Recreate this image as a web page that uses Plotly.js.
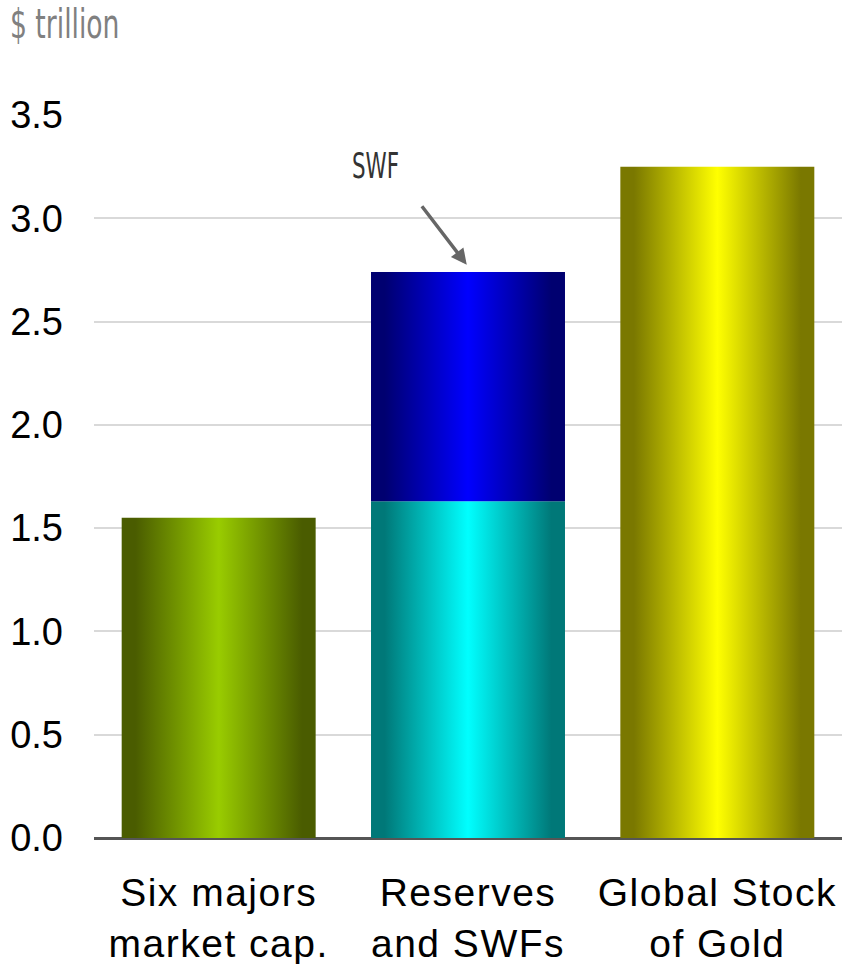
<!DOCTYPE html>
<html>
<head>
<meta charset="utf-8">
<script src="https://cdn.plot.ly/plotly-3.0.1.min.js"></script>
<style>
html,body{margin:0;padding:0;background:#fff;}
#chart{width:842px;height:964px;}
.gtitle{font-stretch:condensed; transform-box:fill-box; transform-origin:left center; transform:scaleX(0.74);}
.annotation-text{font-stretch:condensed; transform-box:fill-box; transform-origin:center; transform:scaleX(0.68);}
.xtick text{letter-spacing:1.5px;}
</style>
</head>
<body>
<div id="chart"></div>
<script>
// ---- data ----
const categories = ['Six majors<br>market cap.', 'Reserves<br>and SWFs', 'Global Stock<br>of Gold'];
const sixMajors = [1.55, 0, 0];
const reserves  = [0, 1.63, 0];
const swf       = [0, 1.11, 0];
const gold      = [0, 0, 3.25];
const yTicks    = [0, 0.5, 1.0, 1.5, 2.0, 2.5, 3.0, 3.5];
const yTickText = ['0.0','0.5','1.0','1.5','2.0','2.5','3.0','3.5'];
const unitLabel = '$ trillion';
const swfLabel  = 'SWF';

// ---- styling ----
const seriesList = [
  {name:'Six majors', vals: sixMajors, dark:'#4a5c00', bright:'#99cc00'},
  {name:'Reserves',   vals: reserves,  dark:'#007878', bright:'#00ffff'},
  {name:'SWF',        vals: swf,       dark:'#000070', bright:'#0000ff'},
  {name:'Gold',       vals: gold,      dark:'#7a7800', bright:'#ffff00'}
];
const halfW = 0.389;
const narrowFont = 'DejaVu Sans Condensed, DejaVu Sans, sans-serif';

const base = categories.map(() => 0);
const traces = [];
seriesList.forEach(s => {
  s.vals.forEach((v, i) => {
    if (!v) return;
    const b = base[i], t = b + v;
    base[i] = t;
    traces.push({
      type:'scatter', mode:'lines', name:s.name,
      x:[i-halfW, i-halfW, i+halfW, i+halfW, i-halfW],
      y:[b, t, t, b, b],
      fill:'toself',
      line:{width:0, color:'rgba(0,0,0,0)'},
      fillgradient:{type:'horizontal', colorscale:[
        [0, s.dark],[0.07, s.dark],[0.5, s.bright],[0.93, s.dark],[1, s.dark]
      ]},
      hoverinfo:'skip', showlegend:false
    });
  });
});

const layout = {
  width:842, height:964,
  margin:{l:94, r:0, t:115, b:126},
  paper_bgcolor:'#fff', plot_bgcolor:'#fff',
  showlegend:false,
  font:{family:'Liberation Sans, Arial, sans-serif', color:'#000'},
  title:{text:unitLabel, xref:'container', yref:'container', x:10/842, xanchor:'left', y:1-24/964, yanchor:'middle',
         font:{family:narrowFont, size:40, color:'#808080', weight:300}},
  xaxis:{
    range:[-0.5, 2.5], tickvals:[0,1,2], ticktext:categories,
    showgrid:false, zeroline:false, showline:false, ticks:'',
    tickfont:{size:39, color:'#000'}, ticklabelstandoff:28, fixedrange:true
  },
  yaxis:{
    range:[0, 3.5], tickvals:yTicks, ticktext:yTickText,
    showgrid:true, gridcolor:'#d9d9d9', gridwidth:2,
    zeroline:true, zerolinecolor:'#555', zerolinewidth:3,
    showline:false, ticks:'', tickfont:{size:38, color:'#000'},
    ticklabelstandoff:30, fixedrange:true
  },
  annotations:[
    {x:0.627, y:3.257, xref:'x', yref:'y', text:swfLabel, showarrow:false,
     font:{family:narrowFont, size:35, color:'#333', weight:300}},
    {x:0.995, y:2.775, xref:'x', yref:'y', text:'', showarrow:true,
     ax:-46, ay:-60, arrowcolor:'#666', arrowwidth:3.5, arrowhead:2, arrowsize:0.9}
  ]
};

Plotly.newPlot('chart', traces, layout, {displayModeBar:false, staticPlot:true});
</script>
</body>
</html>
